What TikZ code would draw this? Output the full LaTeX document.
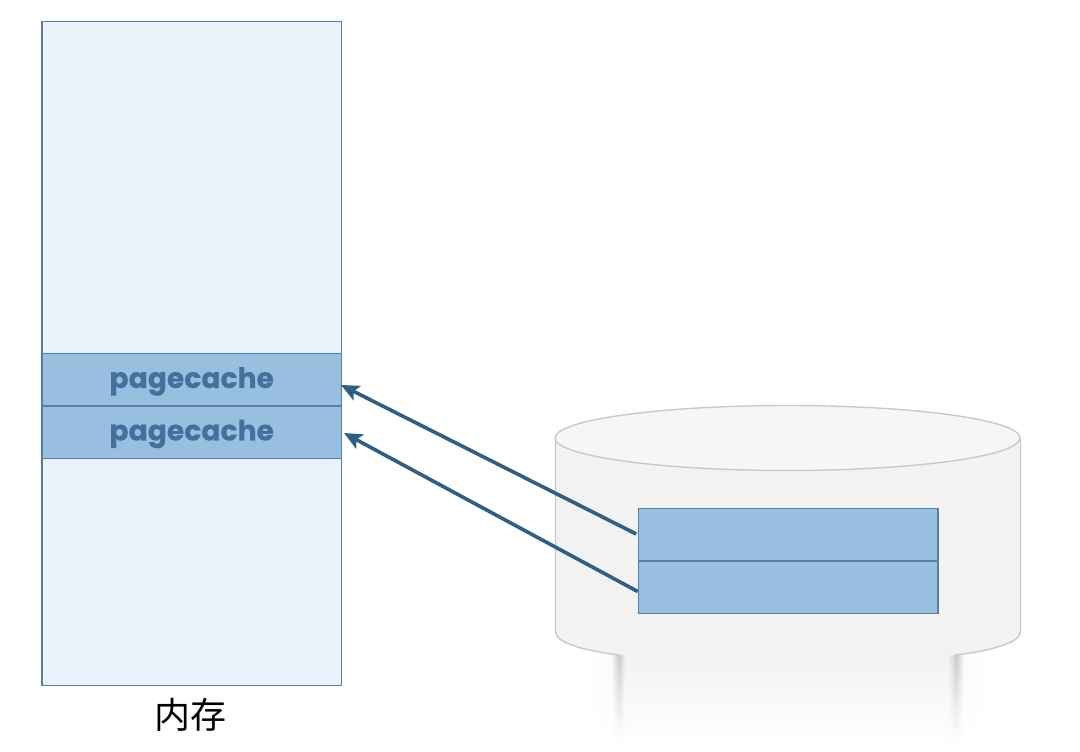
\documentclass[tikz,border=0pt]{standalone}
\usepackage{fontspec}
\setmainfont{Liberation Sans}
\newfontfamily\cjk{Noto Sans CJK SC}
\newfontfamily\pcfont[BoldFeatures={FakeBold=0.3}]{Poppins}
\usetikzlibrary{arrows.meta,shapes.geometric}
\definecolor{memfill}{HTML}{EAF2FB}
\definecolor{cachefill}{HTML}{98BEE0}
\definecolor{edgeblue}{HTML}{557FA8}
\definecolor{arrowblue}{HTML}{2F5F85}
\definecolor{textblue}{HTML}{44719C}
\definecolor{diskfill}{HTML}{F2F2F2}
\definecolor{diskedge}{HTML}{C9C9C9}
\tikzset{
  memrect/.style={draw=edgeblue,fill=memfill,line width=1.5pt,minimum width=299.5pt,minimum height=663.5pt,inner sep=0pt,anchor=north west},
  cacherect/.style={draw=edgeblue,fill=cachefill,line width=1.5pt,minimum width=299.5pt,minimum height=52.5pt,inner sep=0pt,anchor=north west},
  cachetext/.style={text=textblue,font=\pcfont\bfseries\fontsize{28.2}{28}\selectfont,inner sep=0pt},
  feed/.style={draw=arrowblue,line width=3.6pt,-{Stealth[length=18pt,width=16pt,inset=4pt]}},
  disktop/.style={ellipse,draw=diskedge,fill=diskfill!70!white,line width=1.4pt,minimum width=465pt,minimum height=65pt,inner sep=0pt},
}
\begin{document}
\begin{tikzpicture}[x=1pt,y=-1pt]
\useasboundingbox (0,0) rectangle (1080,752);
\fill[white] (0,0) rectangle (1080,752);
% fading reflection under the disk, drawn row by row
\foreach \r in {652,654,...,742}{
  \pgfmathsetmacro{\f}{max(0,(\r-652)/92)}
  \pgfmathsetmacro{\bg}{5.2*(1-\f)}
  \pgfmathsetmacro{\sd}{1.6*(1-\f)}
  \pgfmathsetmacro{\ct}{\bg+17*(1-\f)*(1-\f*0.3)}
  \fill[black!\bg!white] (625,\r) rectangle (948,\r+2.4);
  \fill[left color=white,right color=black!\sd!white] (583,\r) rectangle (611,\r+2.4);
  \fill[left color=black!\sd!white,right color=black!\ct!white] (611,\r) rectangle (619,\r+2.4);
  \fill[left color=black!\ct!white,right color=black!\bg!white] (619,\r) rectangle (625,\r+2.4);
  \fill[left color=black!\bg!white,right color=black!\ct!white] (948,\r) rectangle (956,\r+2.4);
  \fill[left color=black!\ct!white,right color=black!\sd!white] (956,\r) rectangle (964,\r+2.4);
  \fill[left color=black!\sd!white,right color=white] (964,\r) rectangle (992,\r+2.4);
}
% disk body
\path[fill=diskfill]
  (555.5,438) -- (555.5,632) .. controls (556,643) and (585,651) .. (620,655)
  -- (955,655) .. controls (990,651) and (1020,643) .. (1020.5,632) -- (1020.5,438) -- cycle;
\draw[diskedge,line width=1.4pt]
  (620,655) .. controls (585,651) and (556,643) .. (555.5,632) -- (555.5,438);
\draw[diskedge,line width=1.4pt]
  (955,655) .. controls (990,651) and (1020,643) .. (1020.5,632) -- (1020.5,438);
\node[disktop] (top) at (787.5,438) {};
% memory
\node[memrect] (mem) at (41.2,21) {};
\node[cacherect] (c1) at (41.2,352.7) {};
\node[cacherect] (c2) at (41.2,405.2) {};
\node[cachetext] (c1t) at ([yshift=-1.7pt]c1.center) {pagecache};
\node[cachetext] (c2t) at ([yshift=-1.7pt]c2.center) {pagecache};
\node[font=\cjk\fontsize{36}{36}\selectfont,text=black] (lab) at (190.7,715) {内存};
% disk blocks
\node[cacherect] (d1) at (637.7,507.5) {};
\node[cacherect] (d2) at (637.7,560) {};
% connectors
\coordinate (t1) at (341,385);
\coordinate (t2) at (344,433);
\coordinate (s1) at ([xshift=-1.5pt,yshift=0.5pt]d1.west);
\coordinate (s2) at ([yshift=-4.5pt]d2.west);
\draw[feed] (s1) -- (t1);
\draw[feed] (s2) -- (t2);
\end{tikzpicture}
\end{document}
